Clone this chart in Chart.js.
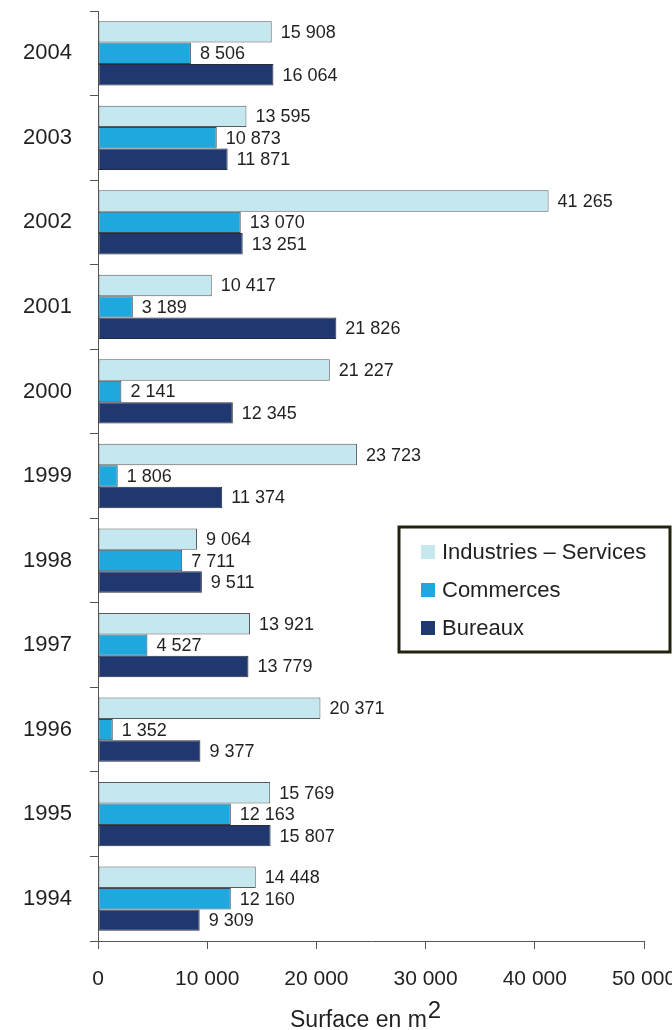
<!DOCTYPE html>
<html>
<head>
<meta charset="utf-8">
<script src="https://cdn.jsdelivr.net/npm/chart.js@4/dist/chart.umd.min.js"></script>
<style>
  html, body { margin: 0; padding: 0; background: #fff; }
  #wrap { position: relative; width: 672px; height: 1030px; }
</style>
</head>
<body>
<div id="wrap"><canvas id="chart" width="672" height="1030"></canvas></div>
<script>
const years = ["2004", "2003", "2002", "2001", "2000", "1999", "1998", "1997", "1996", "1995", "1994"];
const industries = [15908, 13595, 41265, 10417, 21227, 23723, 9064, 13921, 20371, 15769, 14448];
const commerces = [8506, 10873, 13070, 3189, 2141, 1806, 7711, 4527, 1352, 12163, 12160];
const bureaux = [16064, 11871, 13251, 21826, 12345, 11374, 9511, 13779, 9377, 15807, 9309];
const xTicks = [0, 10000, 20000, 30000, 40000, 50000];

const FONT = "'Liberation Sans', Arial, sans-serif";
const INK = "#231f20";
const AXIS = "#555";

function fmt(v) { return String(v).replace(/\B(?=(\d{3})+(?!\d))/g, " "); }

// valeurs a droite de chaque barre
const valueLabels = {
  id: "valueLabels",
  afterDatasetsDraw(chart) {
    const ctx = chart.ctx;
    ctx.save();
    ctx.font = "18px " + FONT;
    ctx.fillStyle = INK;
    ctx.textAlign = "left";
    ctx.textBaseline = "middle";
    chart.data.datasets.forEach((ds, i) => {
      chart.getDatasetMeta(i).data.forEach((bar, j) => {
        ctx.fillText(fmt(ds.data[j]), bar.x + 9, bar.y + 1);
      });
    });
    ctx.restore();
  }
};

// legende encadree + titre de l'axe avec exposant
const extras = {
  id: "extras",
  afterDraw(chart) {
    const ctx = chart.ctx;
    ctx.save();
    ctx.lineWidth = 3;
    ctx.strokeStyle = "#22220f";
    ctx.strokeRect(399, 527, 271, 125);
    ctx.font = "22px " + FONT;
    ctx.textBaseline = "middle";
    ctx.textAlign = "left";
    chart.data.datasets.forEach((ds, i) => {
      const y = 552 + i * 38;
      ctx.fillStyle = ds.backgroundColor;
      ctx.fillRect(421, y - 7, 14, 14);
      ctx.fillStyle = INK;
      ctx.fillText(ds.label, 442, y + 1);
    });

    ctx.font = "23px " + FONT;
    ctx.textBaseline = "alphabetic";
    const t = "Surface en m";
    ctx.fillText(t, 290, 1027);
    const w = ctx.measureText(t).width;
    ctx.font = "24px " + FONT;
    ctx.fillText("2", 290 + w + 1, 1018);
    ctx.restore();
  }
};

new Chart(document.getElementById("chart"), {
  type: "bar",
  data: {
    labels: years,
    datasets: [
      { label: "Industries – Services", data: industries, backgroundColor: "#c5e8f0", borderColor: "#5a5a5a" },
      { label: "Commerces", data: commerces, backgroundColor: "#1ea8de", borderColor: "#3a4a55" },
      { label: "Bureaux", data: bureaux, backgroundColor: "#1f3870", borderColor: "#2a2a3a" },
    ],
  },
  options: {
    indexAxis: "y",
    responsive: false,
    animation: false,
    devicePixelRatio: 1,
    layout: { padding: { top: 11, right: 28, left: 0, bottom: 0 } },
    datasets: { bar: { borderWidth: 1, borderSkipped: false, categoryPercentage: 0.76, barPercentage: 1 } },
    plugins: { legend: { display: false }, tooltip: { enabled: false } },
    scales: {
      x: {
        min: 0, max: 50000,
        afterBuildTicks(scale) { scale.ticks = xTicks.map(v => ({ value: v })); },
        afterFit(scale) { scale.height = 89; scale.paddingLeft = 0; scale.paddingRight = 0; },
        border: { color: AXIS, width: 1 },
        grid: { drawOnChartArea: false, drawTicks: true, tickLength: 8, color: AXIS },
        ticks: { color: INK, font: { family: FONT, size: 21 }, padding: 18, maxRotation: 0, callback: v => fmt(v) },
      },
      y: {
        afterFit(scale) { scale.width = 98; scale.paddingTop = 0; scale.paddingBottom = 0; },
        border: { color: AXIS, width: 1 },
        grid: { drawOnChartArea: false, drawTicks: true, tickLength: 8, offset: true, color: AXIS },
        ticks: { color: INK, font: { family: FONT, size: 22 }, padding: 18 },
      },
    },
  },
  plugins: [valueLabels, extras],
});
</script>
</body>
</html>
